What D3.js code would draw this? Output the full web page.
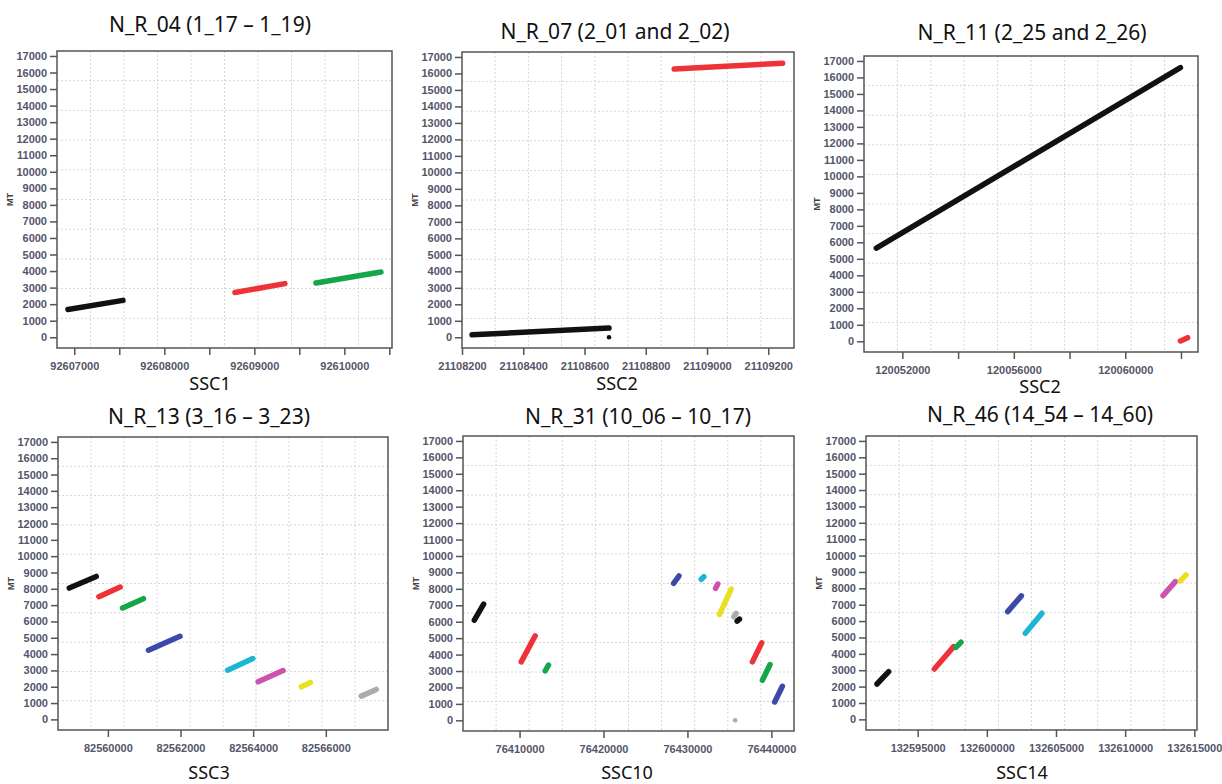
<!DOCTYPE html>
<html>
<head>
<meta charset="utf-8">
<script src="https://cdn.jsdelivr.net/npm/d3@7"></script>
<style>
  body { margin: 0; background: #fff; }
  .tick line { stroke: #555; stroke-width: 1.5; }
  .domain { display: none; }
</style>
</head>
<body>
<div id="chart"></div>
<script>
// panel titles and chromosome labels
const panelTitles = ["N_R_04 (1_17 \u2013 1_19)", "N_R_07 (2_01 and 2_02)", "N_R_11 (2_25 and 2_26)",
                     "N_R_13 (3_16 \u2013 3_23)", "N_R_31 (10_06 \u2013 10_17)", "N_R_46 (14_54 \u2013 14_60)"];
const chromLabels = ["SSC1", "SSC2", "SSC2", "SSC3", "SSC10", "SSC14"];

// x ranges shown in each panel
const xDomains = [
    [92606808, 92610530],
    [21108200, 21109284],
    [120050623, 120062611],
    [82558627, 82567712],
    [76403262, 76442695],
    [132591265, 132615193]
];

// labelled and unlabelled x ticks
const xTickLabels = [
    [92607000, 92608000, 92609000, 92610000],
    [21108200, 21108400, 21108600, 21108800, 21109000, 21109200],
    [120052000, 120056000, 120060000],
    [82560000, 82562000, 82564000, 82566000],
    [76410000, 76420000, 76430000, 76440000],
    [132595000, 132600000, 132605000, 132610000, 132615000]
];
const xMinorTicks = [
    [92607500, 92608500, 92609500, 92610500],
    [],
    [120054000, 120058000, 120062000],
    [], [], []
];

const yTicks = [0, 1000, 2000, 3000, 4000, 5000, 6000, 7000, 8000, 9000,
                10000, 11000, 12000, 13000, 14000, 15000, 16000, 17000];

// aligned blocks: [chrStart, mtStart, chrEnd, mtEnd], in plotting order
const blocksNR04 = [
    [92606930, 1680, 92607541, 2230],
    [92608785, 2700, 92609340, 3240],
    [92609685, 3280, 92610407, 3940]
];
const blocksNR07 = [
    [21108233, 150, 21108680, 560],
    [21108893, 16270, 21109247, 16625]
];
const blocksNR11 = [
    [120051066, 5650, 120061980, 16600],
    [120061980, 20, 120062240, 220]
];
const blocksNR13 = [
    [82558938, 8045, 82559680, 8757],
    [82559753, 7515, 82560339, 8106],
    [82560403, 6823, 82560979, 7393],
    [82561117, 4236, 82561986, 5092],
    [82563295, 3014, 82563991, 3727],
    [82564137, 2301, 82564824, 2994],
    [82565327, 1996, 82565574, 2261],
    [82566975, 1426, 82567387, 1833]
];
const blocksNR31 = [
    [76404610, 6098, 76405719, 7073],
    [76410198, 3557, 76411863, 5142],
    [76413052, 3008, 76413448, 3354],
    [76428351, 8333, 76428985, 8780],
    [76431642, 8580, 76431958, 8740],
    [76433346, 8028, 76433623, 8293],
    [76433821, 6443, 76435208, 7988],
    [76435525, 6300, 76435800, 6504],
    [76435921, 6037, 76436200, 6159],
    [76437741, 3557, 76438851, 4715],
    [76438930, 2439, 76439842, 3394],
    [76440396, 1118, 76441308, 2073]
];
const blocksNR46 = [
    [132592060, 2159, 132592904, 2912],
    [132596205, 3075, 132597602, 4440],
    [132597771, 4399, 132598133, 4705],
    [132601506, 6578, 132602494, 7536],
    [132602783, 5255, 132603988, 6477],
    [132612735, 7556, 132613627, 8411],
    [132613988, 8452, 132614398, 8819]
];
const panelBlocks = [blocksNR04, blocksNR07, blocksNR11, blocksNR13, blocksNR31, blocksNR46];

// isolated hits: [panel, blockIndex, chr, mt]
const strayHits = [
    [1, 0, 21108680, 0],
    [4, 7, 76435683, 0]
];

const palette = ["#111111", "#ee3338", "#15a64a", "#3b4aa8", "#1db6d2", "#cc52ad", "#e8e020", "#acacac"];

// box positions of the six panels in the page
const boxes = [
    { l: 57,  r: 392,  t: 51,  b: 348, titleX: 210,  titleY: 32,  xLabY: 390, labX: 210 },
    { l: 462, r: 794,  t: 52,  b: 348, titleX: 615,  titleY: 39,  xLabY: 390, labX: 617 },
    { l: 864, r: 1198, t: 56,  b: 352, titleX: 1032, titleY: 40,  xLabY: 393, labX: 1040 },
    { l: 58,  r: 388,  t: 437, b: 730, titleX: 209,  titleY: 424, xLabY: 779, labX: 209 },
    { l: 463, r: 794,  t: 436, b: 731, titleX: 638,  titleY: 424, xLabY: 779, labX: 627 },
    { l: 866, r: 1197, t: 436, b: 730, titleX: 1040, titleY: 422, xLabY: 779, labX: 1022 }
];

const svg = d3.select("#chart").append("svg")
    .attr("width", 1222)
    .attr("height", 784);

function styleAxis(sel) {
    sel.attr("font-family", "Liberation Sans, Arial, sans-serif")
        .attr("font-size", 11)
        .attr("font-weight", "bold");
    sel.selectAll(".tick text").attr("fill", "#55556a");
}

boxes.forEach((bx, p) => {
    const w = bx.r - bx.l, h = bx.b - bx.t;
    const g = svg.append("g").attr("transform", `translate(${bx.l},${bx.t})`);

    const x = d3.scaleLinear().domain(xDomains[p]).range([0, w]);
    const y = d3.scaleLinear().domain([-650, 17300]).range([h, 0]);

    // dotted grid, ten equal divisions
    for (let i = 1; i < 10; i++) {
        g.append("line").attr("x1", w * i / 10).attr("x2", w * i / 10).attr("y1", 0).attr("y2", h)
            .attr("stroke", "#d6d6d6").attr("stroke-dasharray", "2,2");
        g.append("line").attr("y1", h * i / 10).attr("y2", h * i / 10).attr("x1", 0).attr("x2", w)
            .attr("stroke", "#d6d6d6").attr("stroke-dasharray", "2,2");
    }

    g.append("g")
        .call(d3.axisLeft(y).tickValues(yTicks).tickSize(7).tickPadding(3).tickFormat(d3.format("d")))
        .call(styleAxis);

    g.append("g")
        .attr("transform", `translate(0,${h})`)
        .call(d3.axisBottom(x).tickValues(xTickLabels[p]).tickSize(7).tickPadding(7).tickFormat(d3.format("d")))
        .call(styleAxis);

    g.append("g")
        .attr("transform", `translate(0,${h})`)
        .call(d3.axisBottom(x).tickValues(xMinorTicks[p]).tickSize(7).tickFormat(""));

    g.selectAll(".block")
        .data(panelBlocks[p])
        .enter()
        .append("line")
        .attr("class", "block")
        .attr("x1", d => x(d[0]))
        .attr("y1", d => y(d[1]))
        .attr("x2", d => x(d[2]))
        .attr("y2", d => y(d[3]))
        .attr("stroke", (d, i) => palette[i % 8])
        .attr("stroke-width", 5.5)
        .attr("stroke-linecap", "round");

    g.selectAll(".stray")
        .data(strayHits.filter(s => s[0] === p))
        .enter()
        .append("circle")
        .attr("cx", d => x(d[2]))
        .attr("cy", d => y(d[3]))
        .attr("r", 2.3)
        .attr("fill", d => palette[d[1] % 8]);

    g.append("rect")
        .attr("width", w).attr("height", h)
        .attr("fill", "none").attr("stroke", "#555").attr("stroke-width", 1.5);

    g.append("text")
        .attr("transform", `translate(-44,${h / 2}) rotate(-90)`)
        .attr("text-anchor", "middle")
        .attr("font-family", "Liberation Sans, Arial, sans-serif")
        .attr("font-weight", "bold")
        .attr("font-size", 9)
        .attr("fill", "#444")
        .text("MT");

    svg.append("text")
        .attr("x", bx.titleX).attr("y", bx.titleY)
        .attr("text-anchor", "middle")
        .attr("font-family", "Noto Sans, Open Sans, sans-serif")
        .attr("font-size", 21)
        .attr("fill", "#111")
        .text(panelTitles[p]);

    svg.append("text")
        .attr("x", bx.labX).attr("y", bx.xLabY)
        .attr("text-anchor", "middle")
        .attr("font-family", "Noto Sans, Open Sans, sans-serif")
        .attr("font-size", 18)
        .attr("fill", "#111")
        .text(chromLabels[p]);
});
</script>
</body>
</html>
